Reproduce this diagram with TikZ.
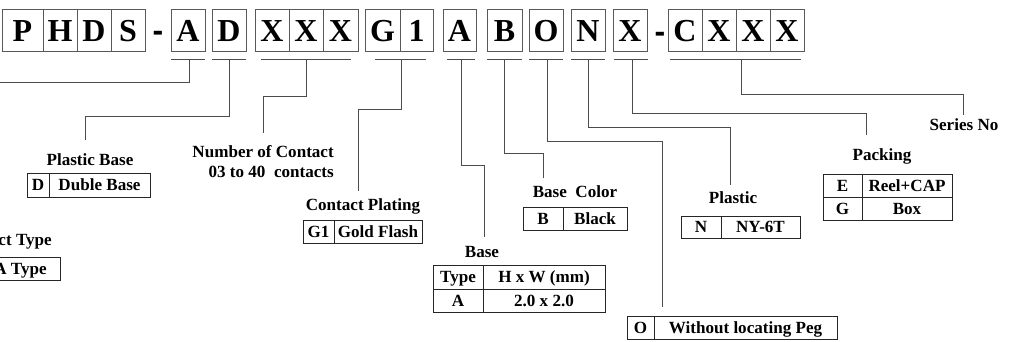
\documentclass[tikz,border=0pt]{standalone}
\usepackage{fontspec}
\setmainfont{Liberation Serif}
\newfontfamily\dashfont{Liberation Sans}
\tikzset{
        cell/.style={draw=black!65, line width=0.75pt, inner sep=0pt, outer sep=0pt,
                minimum height=42.5*0.75pt, text height=15.9pt, text depth=0pt,
                font=\fontsize{24}{24}\selectfont\bfseries},
        lbl/.style={inner sep=0pt, text height=8.5pt, text depth=0pt,
                font=\fontsize{12.8}{15}\selectfont\bfseries},
        tcell/.style={draw=black!85, line width=0.75pt, inner sep=0pt, outer sep=0pt,
                minimum height=23*0.75pt, text height=8.5pt, text depth=0pt,
                font=\fontsize{12.8}{15}\selectfont\bfseries},
        lead/.style={draw=black!70, line width=0.75pt}
}
\begin{document}
\begin{tikzpicture}[x=0.75pt,y=-0.75pt]
        \useasboundingbox (0,0) rectangle (1012,342);
        \clip (0,0) rectangle (1012,342);

        \foreach \n/\x/\w/\t in {p/22.5/41/P, h/60/34/H, d/94/34/D, s/128/34/S,
                a/188/34/A, dd/229/34/D, xa/272/34/X, xb/306/34/X, xc/340.5/35/X,
                g/382.5/35/G, one/416.5/33/1, ab/459.5/33/A, b/504.5/35/B,
                o/546/34/O, n/588/34/N, x/630/34/X,
                c/685/34/C, sa/719/34/X, sb/753/34/X, sc/787/34/X}
                \node (\n) at (\x,30.75) [cell, minimum width=\w*0.75pt] {\t};
        \node (m1) at (158,30.75) [cell, draw=none, font=\fontsize{24}{24}\dashfont\bfseries] {-};
        \node (m2) at (660,31.5) [cell, draw=none, font=\fontsize{24}{24}\dashfont\bfseries] {-};

        \foreach \l/\r in {171/205, 212/246, 261/351, 375/426, 447/475,
                487/522, 529/563, 571/605, 614/648, 670/801}
                \draw[lead] (\l,60) -- (\r,60);

        \coordinate (ua) at (189,60);
        \coordinate (ud) at (229,60);
        \coordinate (ux) at (306,60);
        \coordinate (ug) at (401,60);
        \coordinate (uab) at (461,60);
        \coordinate (ub) at (504,60);
        \coordinate (uo) at (547,60);
        \coordinate (un) at (588,60);
        \coordinate (upk) at (632,60);
        \coordinate (uc) at (741,60);

        \coordinate (ea) at (-20,83);
        \coordinate (ed) at (85,140);
        \coordinate (ex) at (263,133);
        \coordinate (eg) at (358,191);
        \coordinate (eab) at (484,237);
        \coordinate (eb) at (543,178);
        \coordinate (eo) at (662,307);
        \coordinate (en) at (730,185);
        \coordinate (epk) at (866,135);
        \coordinate (ec) at (963,115);

        \draw[lead] (ua) |- (ea);
        \draw[lead] (ud) -- ++(0,57) -| (ed);
        \draw[lead] (ux) -- ++(0,37) -| (ex);
        \draw[lead] (ug) -- ++(0,50) -| (eg);
        \draw[lead] (uab) -- ++(0,105) -| (eab);
        \draw[lead] (ub) -- ++(0,93) -| (eb);
        \draw[lead] (uo) -- ++(0,82) -| (eo);
        \draw[lead] (un) -- ++(0,68) -| (en);
        \draw[lead] (upk) -- ++(0,54) -| (epk);
        \draw[lead] (uc) -- ++(0,35) -| (ec);

        \node (ctype) at (52,240) [lbl, anchor=east] {Contact Type};
        \node (atype) at (20.5,268.5) [tcell, minimum width=79*0.75pt] {A Type};

        \node (plb) at (90,160) [lbl] {Plastic Base};
        \node (dk) at (38,185) [tcell, minimum width=22*0.75pt, minimum height=24*0.75pt] {D};
        \node (dv) at (dk.east) [tcell, anchor=west, minimum width=101*0.75pt, minimum height=24*0.75pt] {Duble Base};

        \node (noc) at (334,152) [lbl, anchor=east] {Number of Contact};
        \node (rng) at (334,172) [lbl, anchor=east] {03 to 40\ \ contacts};

        \node (cpl) at (363,205) [lbl] {Contact Plating};
        \node (g1k) at (318.5,231.5) [tcell, minimum width=31*0.75pt] {G1};
        \node (g1v) at (g1k.east) [tcell, anchor=west, minimum width=88*0.75pt] {Gold Flash};

        \node (bas) at (482,252) [lbl] {Base};
        \node (btk) at (458,277) [tcell, minimum width=50*0.75pt, minimum height=24*0.75pt] {Type};
        \node (btv) at (btk.east) [tcell, anchor=west, minimum width=122*0.75pt, minimum height=24*0.75pt] {H x W (mm)};
        \node (bak) at (btk.south) [tcell, anchor=north, minimum width=50*0.75pt] {A};
        \node (bav) at (bak.east) [tcell, anchor=west, minimum width=122*0.75pt] {2.0 x 2.0};

        \node (bcl) at (575,192) [lbl] {Base\ \ Color};
        \node (bk) at (543,218.5) [tcell, minimum width=40*0.75pt] {B};
        \node (bv) at (bk.east) [tcell, anchor=west, minimum width=64*0.75pt] {Black};

        \node (ok) at (640.5,327.5) [tcell, minimum width=27*0.75pt] {O};
        \node (ov) at (ok.east) [tcell, anchor=west, minimum width=183*0.75pt] {Without locating Peg};

        \node (pls) at (733,198) [lbl] {Plastic};
        \node (nk) at (701,227) [tcell, minimum width=40*0.75pt, minimum height=22*0.75pt] {N};
        \node (nv) at (nk.east) [tcell, anchor=west, minimum width=79*0.75pt, minimum height=22*0.75pt] {NY-6T};

        \node (pck) at (882,155) [lbl] {Packing};
        \node (ek) at (842.5,185.5) [tcell, minimum width=39*0.75pt] {E};
        \node (ev) at (ek.east) [tcell, anchor=west, minimum width=90*0.75pt] {Reel+CAP};
        \node (gk) at (ek.south) [tcell, anchor=north, minimum width=39*0.75pt] {G};
        \node (gv) at (gk.east) [tcell, anchor=west, minimum width=90*0.75pt] {Box};

        \node (ser) at (964,125) [lbl] {Series No};
\end{tikzpicture}
\end{document}
